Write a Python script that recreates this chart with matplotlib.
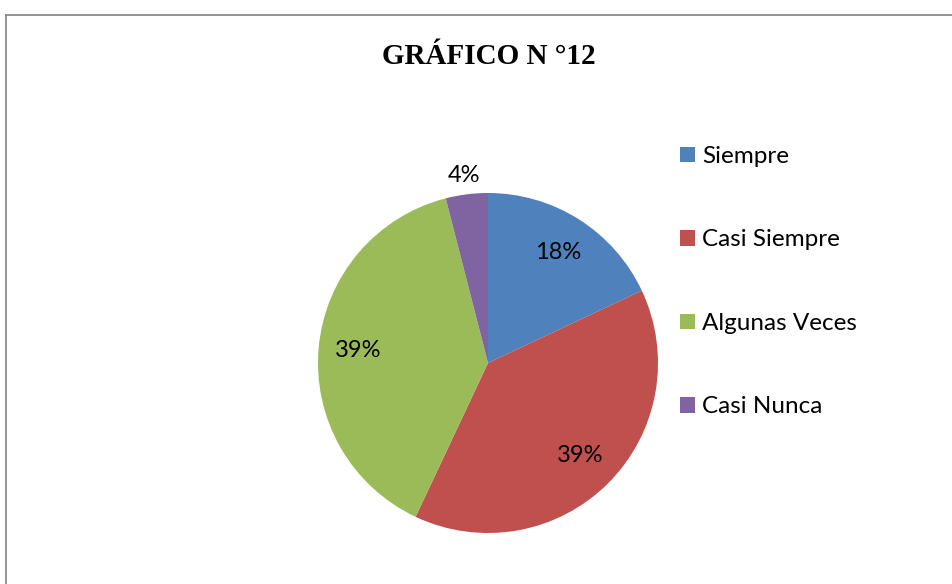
import numpy as np
import matplotlib.pyplot as plt
from matplotlib.patches import Patch
from matplotlib.lines import Line2D

# data
categories = ['Siempre', 'Casi Siempre', 'Algunas Veces', 'Casi Nunca']
percents = [18, 39, 39, 4]
colors = ['#4F81BD', '#C0504D', '#9BBB59', '#8064A2']
title = 'GRÁFICO N °12'

fig = plt.figure(figsize=(9.52, 5.84), dpi=100)
W, H = 952, 584

# outer frame of the chart area (runs off right and bottom edges)
x0 = 5.5 / W
ytop = 1 - 14.5 / H
fig.add_artist(Line2D([x0, x0], [0, ytop], color='#8a8a8a', lw=1.3, transform=fig.transFigure))
fig.add_artist(Line2D([x0, 1], [ytop, ytop], color='#8a8a8a', lw=1.3, transform=fig.transFigure))

fig.text(489 / W, 1 - 56 / H, title, ha='center', va='center',
         fontsize=21, fontweight='bold', family='Liberation Serif')

# pie axes, centred at (488, 363) px with radius 170 px
ax = fig.add_axes([318 / W, 1 - 533 / H, 340 / W, 340 / H])
wedges, texts, autotexts = ax.pie(
    percents, colors=colors, startangle=90, counterclock=False,
    autopct=lambda p: '%d%%' % round(p), pctdistance=0.77,
    wedgeprops=dict(linewidth=0),
    textprops=dict(fontsize=17, family='Lato', color='black'))
ax.set_xlim(-1, 1)
ax.set_ylim(-1, 1)
ax.set_aspect('equal')

# small slice label sits outside the pie
for w, t, p in zip(wedges, autotexts, percents):
    if p < 10:
        ang = np.deg2rad((w.theta1 + w.theta2) / 2)
        t.set_position((1.11 * np.cos(ang), 1.11 * np.sin(ang)))

handles = [Patch(facecolor=c, edgecolor='none') for c in colors]
fig.legend(handles, categories, loc='upper left',
           bbox_to_anchor=(680 / W, 1 - 146 / H), frameon=False,
           prop=dict(family='Lato', size=17.5), handlelength=0.6,
           handleheight=0.6, handletextpad=0.3, labelspacing=2.57,
           borderaxespad=0, borderpad=0)

fig.savefig('out.png', dpi=100)
